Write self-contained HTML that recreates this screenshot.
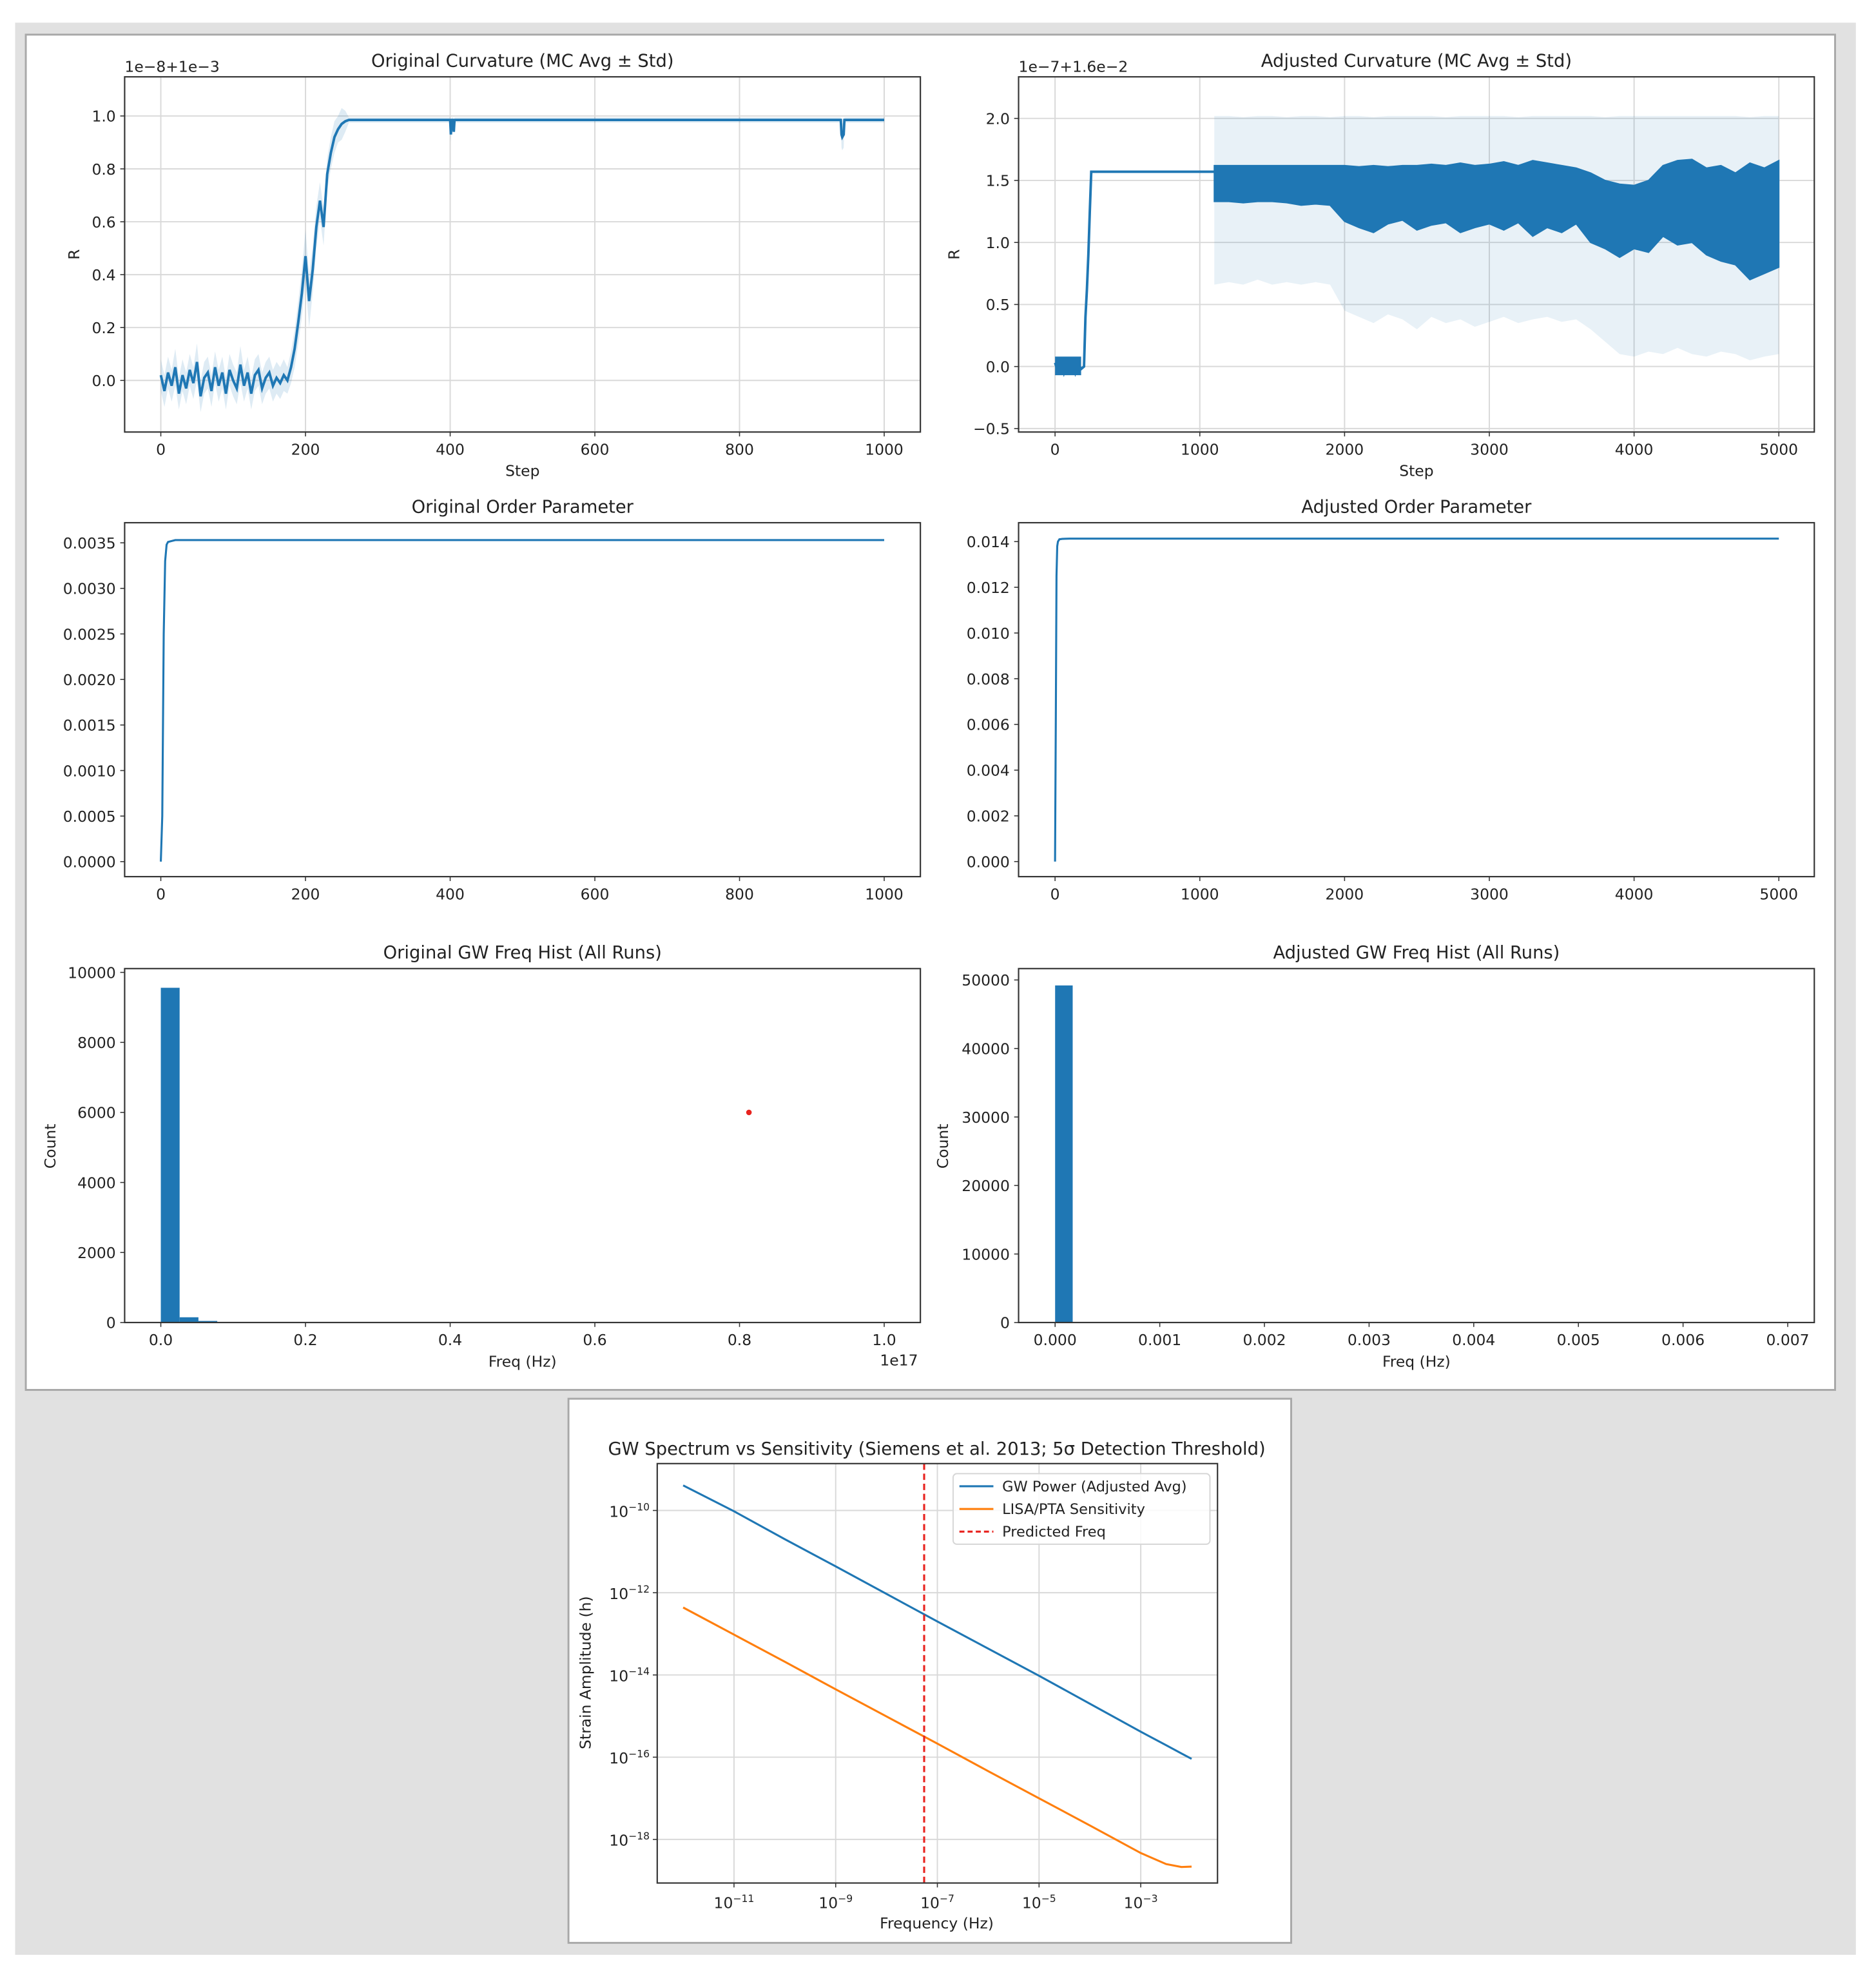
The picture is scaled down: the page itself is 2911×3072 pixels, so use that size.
<!DOCTYPE html>
<html><head><meta charset="utf-8"><title>Curvature dashboard</title>
<style>
html,body{margin:0;padding:0;background:#fff;}
svg{display:block;font-family:"DejaVu Sans","Liberation Sans",sans-serif;}
</style></head>
<body>
<svg id="fig" width="2911" height="3072" viewBox="0 0 1490 1572" preserveAspectRatio="none" xmlns="http://www.w3.org/2000/svg">
<rect x="0" y="0" width="1490" height="1572" fill="#ffffff"/>
<rect x="12" y="18" width="1462" height="1534" fill="#e1e1e1"/>
<rect x="20.5" y="27.5" width="1437" height="1076" fill="#fff" stroke="#a8a8a8" stroke-width="1.5"/>
<rect x="451.5" y="1110.5" width="574" height="432" fill="#fff" stroke="#a8a8a8" stroke-width="1.5"/>
<g id="root"></g>
</svg>
<script>
// ---------- data ----------
const origSteps = [0,5,10,15,20,25,30,35,40,45,50,55,60,65,70,75,80,85,90,95,100,105,110,115,120,125,130,135,140,145,150,155,160,165,170,175,180,185,190,195,200,205,210,215,220,225,230,235,240,245,250,255,260,400,401,402,404,405,406,600,800,940,941,942,944,945,946,1000];
const origMean = [0.02,-0.04,0.03,-0.02,0.05,-0.05,0.02,-0.03,0.04,-0.01,0.07,-0.06,0.01,0.03,-0.04,0.05,-0.02,0.03,-0.05,0.04,0.0,-0.03,0.06,-0.02,0.03,-0.05,0.02,0.04,-0.03,0.01,0.03,-0.02,0.01,-0.01,0.02,0.0,0.05,0.12,0.22,0.33,0.47,0.30,0.42,0.58,0.68,0.58,0.78,0.86,0.92,0.95,0.97,0.98,0.985,0.985,0.93,0.985,0.985,0.94,0.985,0.985,0.985,0.985,0.93,0.92,0.93,0.985,0.985,0.985];
const origStd = [0.06,0.06,0.06,0.06,0.07,0.06,0.06,0.06,0.06,0.06,0.07,0.06,0.06,0.06,0.06,0.06,0.06,0.06,0.06,0.06,0.06,0.06,0.07,0.06,0.06,0.06,0.06,0.06,0.06,0.06,0.06,0.06,0.06,0.06,0.06,0.05,0.06,0.07,0.08,0.09,0.10,0.10,0.09,0.08,0.07,0.07,0.06,0.06,0.06,0.05,0.06,0.04,0.01,0.01,0.03,0.01,0.01,0.01,0.01,0.01,0.01,0.01,0.05,0.05,0.05,0.01,0.01,0.01];

const adjEarlySteps = [0,20,40,60,80,100,120,140,160,180,200,210,220,230,240,250,1100];
const adjEarlyMean = [0.03,-0.04,0.02,-0.05,0.04,-0.03,0.03,-0.05,0.02,-0.02,0.0,0.4,0.62,0.9,1.25,1.57,1.57];
const adjSteps = [1100,1200,1300,1400,1500,1600,1700,1800,1900,2000,2100,2200,2300,2400,2500,2600,2700,2800,2900,3000,3100,3200,3300,3400,3500,3600,3700,3800,3900,4000,4100,4200,4300,4400,4500,4600,4700,4800,4900,5000];
const adjHi = [1.62,1.62,1.62,1.62,1.62,1.62,1.62,1.62,1.62,1.62,1.61,1.62,1.61,1.62,1.62,1.63,1.62,1.64,1.62,1.63,1.65,1.62,1.66,1.64,1.62,1.60,1.56,1.50,1.47,1.46,1.50,1.62,1.66,1.67,1.60,1.62,1.56,1.64,1.60,1.66];
const adjLo = [1.33,1.33,1.32,1.33,1.33,1.32,1.30,1.31,1.30,1.17,1.12,1.08,1.15,1.18,1.10,1.14,1.16,1.08,1.12,1.15,1.10,1.16,1.05,1.12,1.08,1.15,1.00,0.95,0.88,0.95,0.92,1.05,0.98,1.00,0.90,0.85,0.82,0.70,0.75,0.80];
const adjStdHi = [2.02,2.02,2.01,2.02,2.02,2.01,2.02,2.02,2.01,2.02,2.02,2.01,2.02,2.02,2.02,2.02,2.01,2.02,2.02,2.02,2.02,2.01,2.02,2.02,2.02,2.02,2.02,2.01,2.02,2.02,2.02,2.02,2.02,2.02,2.02,2.02,2.02,2.01,2.02,2.02];
const adjStdLo = [0.66,0.68,0.66,0.70,0.66,0.68,0.66,0.68,0.66,0.45,0.40,0.35,0.42,0.38,0.30,0.40,0.35,0.38,0.32,0.36,0.40,0.35,0.38,0.40,0.36,0.38,0.30,0.20,0.10,0.08,0.12,0.10,0.15,0.10,0.08,0.12,0.10,0.05,0.08,0.10];

const orderOrigSteps = [0,2,4,6,8,10,15,20,30,50,1000];
const orderOrigVals = [0,0.0005,0.0025,0.0033,0.00348,0.00351,0.00352,0.00353,0.00353,0.00353,0.00353];
const orderAdjSteps = [0,5,10,15,20,30,50,100,5000];
const orderAdjVals = [0,0.006,0.0125,0.0138,0.0140,0.01410,0.01412,0.01413,0.01413];

const histOrigEdges = [0,0.026,0.052,0.078,0.104];
const histOrigCounts = [9560,150,45,5];
const histOrigOutlier = [0.813,6000];
const histAdjEdges = [0,0.000168];
const histAdjCounts = [49200];

const gwLogF = [-12,-11,-10,-9,-8,-7,-6,-5,-4,-3,-2.5,-2.2,-2];
const gwBlueLogH = [-9.39,-10.02,-10.70,-11.36,-12.03,-12.70,-13.36,-14.02,-14.70,-15.38,-15.71,-15.91,-16.04];
const gwOrangeLogH = [-12.36,-13.02,-13.68,-14.35,-15.01,-15.67,-16.34,-17.00,-17.66,-18.33,-18.60,-18.67,-18.66];
const gwPredLogF = -7.26;

const stepTicks1 = [0,200,400,600,800,1000];
const stepTicks5 = [0,1000,2000,3000,4000,5000];
const rTicks1 = [0.0,0.2,0.4,0.6,0.8,1.0];
const rTicks2 = [-0.5,0.0,0.5,1.0,1.5,2.0];
const ordTicks1 = [0,0.0005,0.001,0.0015,0.002,0.0025,0.003,0.0035];
const ordTicks2 = [0,0.002,0.004,0.006,0.008,0.010,0.012,0.014];
const histTicksX1 = [0,0.2,0.4,0.6,0.8,1.0];
const histTicksY1 = [0,2000,4000,6000,8000,10000];
const histTicksX2 = [0,0.001,0.002,0.003,0.004,0.005,0.006,0.007];
const histTicksY2 = [0,10000,20000,30000,40000,50000];
const gwTicksX = [-11,-9,-7,-5,-3];
const gwTicksY = [-18,-16,-14,-12,-10];

// ---------- helpers ----------
const NS = "http://www.w3.org/2000/svg";
const root = document.getElementById('root');
function el(tag, attrs, parent){
  const e = document.createElementNS(NS, tag);
  for (const k in attrs) e.setAttribute(k, attrs[k]);
  (parent||root).appendChild(e);
  return e;
}
function txt(s, x, y, size, anchor, parent, extra){
  const t = el('text', Object.assign({x:x, y:y, 'font-size':size, 'text-anchor':anchor||'middle', fill:'#222'}, extra||{}), parent);
  t.textContent = s;
  return t;
}
function supTxt(exp, x, y, anchor, parent){
  const t = el('text', {x:x, y:y, 'font-size':12, 'text-anchor':anchor, fill:'#222'}, parent);
  const a = el('tspan', {}, t); a.textContent = '10';
  const b = el('tspan', {'font-size':8, dy:-5}, t); b.textContent = exp;
  return t;
}
const BLUE = '#1f77b4';
const GRID = '#d9d9d9';

function makeAxes(name, box, xr, yr, xt, xtl, yt, ytl){
  const g = el('g', {});
  
  
  const sx = v => box.x0 + (v - xr[0]) / (xr[1] - xr[0]) * (box.x1 - box.x0);
  const sy = v => box.y1 - (v - yr[0]) / (yr[1] - yr[0]) * (box.y1 - box.y0);
  const grid = el('g', {}, g);
  
  
  if (box.grid) {
    xt.forEach(v => el('line', {x1:sx(v), x2:sx(v), y1:box.y0, y2:box.y1, stroke:GRID, 'stroke-width':1}, grid));
    yt.forEach(v => el('line', {y1:sy(v), y2:sy(v), x1:box.x0, x2:box.x1, stroke:GRID, 'stroke-width':1}, grid));
  }
  const xg = el('g', {}, g);
  
  
  xt.forEach((v, i) => {
    el('line', {x1:sx(v), x2:sx(v), y1:box.y1, y2:box.y1 + 3.5, stroke:'#333', 'stroke-width':0.8}, xg);
    if (typeof xtl[i] === 'string') txt(xtl[i], sx(v), box.y1 + 18, 12, 'middle', xg);
    else supTxt(xtl[i].sup, sx(v), box.y1 + 20, 'middle', xg);
  });
  const yg = el('g', {}, g);
  
  
  yt.forEach((v, i) => {
    el('line', {y1:sy(v), y2:sy(v), x1:box.x0 - 3.5, x2:box.x0, stroke:'#333', 'stroke-width':0.8}, yg);
    if (typeof ytl[i] === 'string') txt(ytl[i], box.x0 - 7, sy(v) + 4.5, 12, 'end', yg);
    else supTxt(ytl[i].sup, box.x0 - 6, sy(v) + 5, 'end', yg);
  });
  const plot = el('g', {}, g);
  
  
  const frame = el('rect', {x:box.x0, y:box.y0, width:box.x1 - box.x0, height:box.y1 - box.y0, fill:'none', stroke:'#333', 'stroke-width':1.1}, g);
  
  
  return {sx, sy, plot, g};
}
function pathFrom(xs, ys, sx, sy){ return xs.map((x,i)=>(i?'L':'M')+sx(x).toFixed(2)+','+sy(ys[i]).toFixed(2)).join(''); }
const fmt = (a, d) => a.map(v => v.toFixed(d));
const sup = a => a.map(v => ({sup: '\u2212' + Math.abs(v)}));

// ---------- 1. Original curvature ----------
{
  const A = makeAxes('original-curvature-chart', {x0:99,x1:731,y0:61,y1:343,grid:true}, [-50,1050], [-0.195,1.148], stepTicks1, stepTicks1.map(String), rTicks1, fmt(rTicks1,1));
  const up = origSteps.map((s,i)=>origMean[i]+origStd[i]);
  const lo = origSteps.map((s,i)=>origMean[i]-origStd[i]);
  const band = el('path', {d: pathFrom(origSteps, up, A.sx, A.sy) + pathFrom(origSteps.slice().reverse(), lo.slice().reverse(), A.sx, A.sy).replace('M','L') + 'Z', fill:BLUE, 'fill-opacity':0.15}, A.plot);
  
  
  const line = el('path', {d: pathFrom(origSteps, origMean, A.sx, A.sy), fill:'none', stroke:BLUE, 'stroke-width':2}, A.plot);
  
  
  txt('Original Curvature (MC Avg \u00b1 Std)', 415, 53, 14, 'middle', A.g);
  txt('1e\u22128+1e\u22123', 99, 57, 12, 'start', A.g);
  txt('Step', 415, 378, 12, 'middle', A.g);
  txt('R', 63, 202, 12, 'middle', A.g, {transform:'rotate(-90 63 202)'});
}
// ---------- 2. Adjusted curvature ----------
{
  const A = makeAxes('adjusted-curvature-chart', {x0:809,x1:1441,y0:61,y1:343,grid:true}, [-252,5245], [-0.528,2.335], stepTicks5, stepTicks5.map(String), rTicks2, fmt(rTicks2,1).map(s=>s.replace('-','\u2212')));
  const std = el('path', {d: pathFrom(adjSteps, adjStdHi, A.sx, A.sy) + pathFrom(adjSteps.slice().reverse(), adjStdLo.slice().reverse(), A.sx, A.sy).replace('M','L') + 'Z', fill:BLUE, 'fill-opacity':0.1}, A.plot);
  
  
  const early = el('path', {d: pathFrom(adjEarlySteps, adjEarlyMean, A.sx, A.sy), fill:'none', stroke:BLUE, 'stroke-width':2}, A.plot);
  
  
  const noise0 = el('rect', {x:A.sx(0), y:A.sy(0.08), width:A.sx(180)-A.sx(0), height:A.sy(-0.07)-A.sy(0.08), fill:BLUE}, A.plot);
  
  
  const dense = el('path', {d: pathFrom(adjSteps, adjHi, A.sx, A.sy) + pathFrom(adjSteps.slice().reverse(), adjLo.slice().reverse(), A.sx, A.sy).replace('M','L') + 'Z', fill:BLUE, stroke:BLUE, 'stroke-width':1}, A.plot);
  
  
  txt('Adjusted Curvature (MC Avg \u00b1 Std)', 1125, 53, 14, 'middle', A.g);
  txt('1e\u22127+1.6e\u22122', 809, 57, 12, 'start', A.g);
  txt('Step', 1125, 378, 12, 'middle', A.g);
  txt('R', 762, 202, 12, 'middle', A.g, {transform:'rotate(-90 762 202)'});
}
// ---------- 3. Original order parameter ----------
{
  const A = makeAxes('original-order-chart', {x0:99,x1:731,y0:415,y1:696,grid:false}, [-50,1050], [-0.000165,0.003721], stepTicks1, stepTicks1.map(String), ordTicks1, fmt(ordTicks1,4));
  const l = el('path', {d: pathFrom(orderOrigSteps, orderOrigVals, A.sx, A.sy), fill:'none', stroke:BLUE, 'stroke-width':1.6}, A.plot);
  
  
  txt('Original Order Parameter', 415, 407, 14, 'middle', A.g);
}
// ---------- 4. Adjusted order parameter ----------
{
  const A = makeAxes('adjusted-order-chart', {x0:809,x1:1441,y0:415,y1:696,grid:false}, [-252,5245], [-0.00066,0.014826], stepTicks5, stepTicks5.map(String), ordTicks2, fmt(ordTicks2,3));
  const l = el('path', {d: pathFrom(orderAdjSteps, orderAdjVals, A.sx, A.sy), fill:'none', stroke:BLUE, 'stroke-width':1.6}, A.plot);
  
  
  txt('Adjusted Order Parameter', 1125, 407, 14, 'middle', A.g);
}
// ---------- 5. Original histogram ----------
{
  const A = makeAxes('original-gw-hist-chart', {x0:99,x1:731,y0:769,y1:1050,grid:false}, [-0.05,1.05], [0,10108], histTicksX1, fmt(histTicksX1,1), histTicksY1, histTicksY1.map(String));
  histOrigCounts.forEach((c,i)=>{
    const r = el('rect', {x:A.sx(histOrigEdges[i]), y:A.sy(c), width:A.sx(histOrigEdges[i+1])-A.sx(histOrigEdges[i]), height:A.sy(0)-A.sy(c), fill:BLUE}, A.plot);
    
    
  });
  const d = el('circle', {cx:A.sx(histOrigOutlier[0]), cy:A.sy(histOrigOutlier[1]), r:2.2, fill:'#e8231f'}, A.plot);
  
  
  txt('Original GW Freq Hist (All Runs)', 415, 761, 14, 'middle', A.g);
  txt('Freq (Hz)', 415, 1085, 12, 'middle', A.g);
  txt('1e17', 714, 1084, 12, 'middle', A.g);
  txt('Count', 44, 910, 12, 'middle', A.g, {transform:'rotate(-90 44 910)'});
}
// ---------- 6. Adjusted histogram ----------
{
  const A = makeAxes('adjusted-gw-hist-chart', {x0:809,x1:1441,y0:769,y1:1050,grid:false}, [-0.000349,0.007254], [0,51660], histTicksX2, fmt(histTicksX2,3), histTicksY2, histTicksY2.map(String));
  histAdjCounts.forEach((c,i)=>{
    const r = el('rect', {x:A.sx(histAdjEdges[i]), y:A.sy(c), width:A.sx(histAdjEdges[i+1])-A.sx(histAdjEdges[i]), height:A.sy(0)-A.sy(c), fill:BLUE}, A.plot);
    
    
  });
  txt('Adjusted GW Freq Hist (All Runs)', 1125, 761, 14, 'middle', A.g);
  txt('Freq (Hz)', 1125, 1085, 12, 'middle', A.g);
  txt('Count', 753, 910, 12, 'middle', A.g, {transform:'rotate(-90 753 910)'});
}
// ---------- 7. GW spectrum ----------
{
  const A = makeAxes('gw-spectrum-chart', {x0:522,x1:967,y0:1162,y1:1495,grid:true}, [-12.51,-1.49], [-19.06,-8.86], gwTicksX, sup(gwTicksX), gwTicksY, sup(gwTicksY));
  const b = el('path', {d: pathFrom(gwLogF, gwBlueLogH, A.sx, A.sy), fill:'none', stroke:BLUE, 'stroke-width':1.6}, A.plot);
  
  
  const o = el('path', {d: pathFrom(gwLogF, gwOrangeLogH, A.sx, A.sy), fill:'none', stroke:'#ff7f0e', 'stroke-width':1.6}, A.plot);
  
  
  const p = el('line', {x1:A.sx(gwPredLogF), x2:A.sx(gwPredLogF), y1:1162, y2:1495, stroke:'#e8231f', 'stroke-width':1.6, 'stroke-dasharray':'5,3'}, A.plot);
  
  
  const lg = el('g', {}, A.g);
  
  
  el('rect', {x:757, y:1170, width:204, height:56, rx:3, fill:'#fff', 'fill-opacity':0.85, stroke:'#d6d6d6'}, lg);
  const items = [['GW Power (Adjusted Avg)', BLUE, ''], ['LISA/PTA Sensitivity', '#ff7f0e', ''], ['Predicted Freq', '#e8231f', '4,2.5']];
  items.forEach((it, i) => {
    const e = el('g', {}, lg);
    
    
    el('line', {x1:762, x2:789, y1:1180 + i*18, y2:1180 + i*18, stroke:it[1], 'stroke-width':1.6, 'stroke-dasharray':it[2]||'none'}, e);
    txt(it[0], 796, 1184 + i*18, 11.5, 'start', e);
  });
  txt('GW Spectrum vs Sensitivity (Siemens et al. 2013; 5\u03c3 Detection Threshold)', 744, 1155, 14, 'middle', A.g);
  txt('Frequency (Hz)', 744, 1531, 12, 'middle', A.g);
  txt('Strain Amplitude (h)', 469, 1328, 12, 'middle', A.g, {transform:'rotate(-90 469 1328)'});
}
</script>
</body></html>
